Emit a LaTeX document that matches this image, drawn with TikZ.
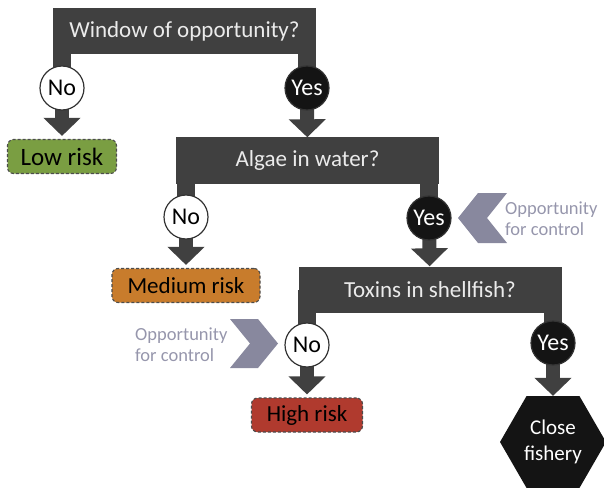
\documentclass[tikz,border=0pt]{standalone}
\usepackage{fontspec}
\setmainfont{Carlito}
\usetikzlibrary{shapes.geometric,arrows.meta,backgrounds}

\definecolor{bardark}{RGB}{64,64,64}
\definecolor{lowgreen}{RGB}{122,158,66}
\definecolor{medorange}{RGB}{200,124,44}
\definecolor{highred}{RGB}{176,58,46}
\definecolor{ctrlgrey}{RGB}{136,136,158}
\definecolor{ctrltext}{RGB}{150,150,172}

\begin{document}
\begin{tikzpicture}[x=1pt, y=-1pt,
    question/.style={rectangle, fill=bardark, text=black!8, minimum width=263pt, minimum height=46pt, inner sep=0pt, font=\fontsize{23}{25}\selectfont},
    no/.style={circle, draw=black!80, line width=1.2pt, fill=white, minimum size=44pt, inner sep=0pt, font=\fontsize{24}{26}\selectfont},
    yes/.style={no, fill=black!92, text=white},
    risk/.style={rectangle, rounded corners=6pt, draw=black!70, dash pattern=on 3pt off 2pt, line width=1.1pt, minimum height=34pt, inner sep=0pt, font=\fontsize{23}{25}\selectfont},
    leg/.style={draw=bardark, line width=18pt},
    go/.style={draw=bardark, line width=14pt, -{Triangle[width=36pt,length=18pt]}},
    chance/.style={text=ctrltext, align=left, anchor=west, inner sep=0pt, font=\fontsize{18.5}{21}\selectfont}]
    \useasboundingbox (0,0) rectangle (604,489);
    % questions
    \node[question] (q_w) at (184.5, 31.5) {Window of opportunity?};
    \node[question] (q_a) at (307.5, 160.5) {Algae in water?};
    \node[question] (q_t) at (430, 289.5) {Toxins in shellfish?};
    % answers
    \node[no] (n_w) at (62, 88) {No};
    \node[yes] (y_w) at (307, 88) {Yes};
    \node[no] (n_a) at (186, 217) {No};
    \node[yes] (y_a) at (429, 218) {Yes};
    \node[no] (n_t) at (307, 345) {No};
    \node[yes] (y_t) at (553, 343) {Yes};
    % outcomes
    \node[risk, fill=lowgreen, minimum width=109pt, font=\fontsize{25}{27}\selectfont] (r_low) at (62, 156.5) {Low risk};
    \node[risk, fill=medorange, minimum width=148pt] (r_med) at (186, 285.5) {Medium risk};
    \node[risk, fill=highred, minimum width=111pt] (r_high) at (307, 415) {High risk};
    \node[regular polygon, regular polygon sides=6, minimum size=106pt, inner sep=0pt,
          fill=black!92, text=white, align=center, font=\fontsize{21}{26}\selectfont] (close) at (553, 442) {Close\\fishery};
    % control points
    \node[chance] (op_a) at (505, 219) {Opportunity\\for control};
    \node[chance] (op_t) at (135, 345) {Opportunity\\for control};
    \fill[ctrlgrey] (458,218) -- (478,193) -- (507,193) -- (487,218) -- (507,243) -- (478,243) -- cycle;
    \fill[ctrlgrey] (278,343.5) -- (258,319) -- (230,319) -- (250,343.5) -- (230,368) -- (258,368) -- cycle;
    \begin{scope}[on background layer]
    \path (n_w |- q_w) edge[leg] (n_w.center)
          (y_w |- q_w) edge[leg] (y_w.center)
          (n_a |- q_a) edge[leg] (n_a.center)
          (y_a |- q_a) edge[leg] (y_a.center)
          (n_t |- q_t) edge[leg] (n_t.center)
          (y_t |- q_t) edge[leg] (y_t.center);
    \path (n_w.center) edge[go, shorten >=3pt] (r_low)
          (y_w.center) edge[go] (q_a)
          (n_a.center) edge[go, shorten >=3pt] (r_med)
          (y_a.center) edge[go] (q_t)
          (n_t.center) edge[go, shorten >=3pt] (r_high)
          (y_t.center) edge[go] (close);
    \end{scope}
\end{tikzpicture}
\end{document}
